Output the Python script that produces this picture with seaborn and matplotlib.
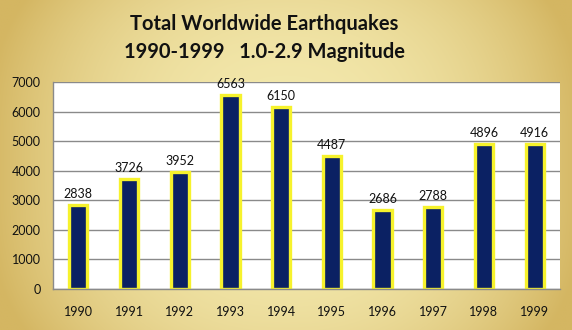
import numpy as np
import pandas as pd
import matplotlib
matplotlib.use("Agg")
import matplotlib.pyplot as plt
import seaborn as sns

years = ["1990", "1991", "1992", "1993", "1994", "1995", "1996", "1997", "1998", "1999"]
counts = [2838, 3726, 3952, 6563, 6150, 4487, 2686, 2788, 4896, 4916]
yticks = [0, 1000, 2000, 3000, 4000, 5000, 6000, 7000]
title = "Total Worldwide Earthquakes\n1990-1999   1.0-2.9 Magnitude"

df = pd.DataFrame({"year": years, "count": counts})

sns.set_theme(style="white")
plt.rcParams["font.family"] = ["Lato", "DejaVu Sans"]

W, H = 572, 330
fig = plt.figure(figsize=(W / 100, H / 100), dpi=100)

# gold gradient background
bg = fig.add_axes([0, 0, 1, 1], zorder=-10)
xs = np.linspace(-1, 1, 400)
ys = np.linspace(-1, 1, 240)
X, Y = np.meshgrid(xs, ys)
t = np.clip(np.abs(X) ** 2.2 * 0.9 + np.abs(Y) ** 3 * 0.25, 0, 1)
light = np.array([243, 232, 172]) / 255
dark = np.array([212, 182, 98]) / 255
img = light[None, None, :] * (1 - t[..., None]) + dark[None, None, :] * t[..., None]
bg.imshow(img, aspect="auto", extent=[0, 1, 0, 1], origin="lower")
bg.set_axis_off()

ax = fig.add_axes([53 / W, 1 - 289 / H, (560 - 53) / W, (289 - 82) / H])
ax.set_facecolor("white")
sns.barplot(data=df, x="year", y="count", ax=ax, color="#0b2163",
            width=0.36, edgecolor="#f6f22c", linewidth=2.4, saturation=1)

ax.set_ylim(0, 7000)
ax.set_yticks(yticks)
ax.set_yticklabels([str(v) for v in yticks], fontsize=9, color="#111111")
ax.set_xticks(range(len(years)))
ax.set_xticklabels(years, fontsize=9, color="#111111")
ax.set_xlim(-0.5, len(years) - 0.5)
ax.set_xlabel("")
ax.set_ylabel("")
ax.yaxis.grid(True, color="#8a8a8a", linewidth=1)
ax.set_axisbelow(True)
for s in ["top", "right"]:
    ax.spines[s].set_visible(False)
for s in ["left", "bottom"]:
    ax.spines[s].set_color("#8a8a8a")
    ax.spines[s].set_linewidth(1)

# ticks between categories on x axis
ax.set_xticks(np.arange(-0.5, len(years), 1), minor=True)
ax.tick_params(axis="x", which="major", length=0, pad=12)
ax.tick_params(axis="x", which="minor", length=4, color="#8a8a8a", direction="out", width=1)
ax.tick_params(axis="y", length=4, color="#8a8a8a", direction="out", width=1, pad=5)

for i, v in enumerate(counts):
    ax.text(i, v + 170, str(v), ha="center", va="bottom", fontsize=9, color="#111111")

fig.text(264 / W, 1 - 38 / H, title, ha="center", va="center", fontsize=14.5,
         fontweight="bold", color="#111111", linespacing=1.45)

fig.savefig("out.png", dpi=100)
